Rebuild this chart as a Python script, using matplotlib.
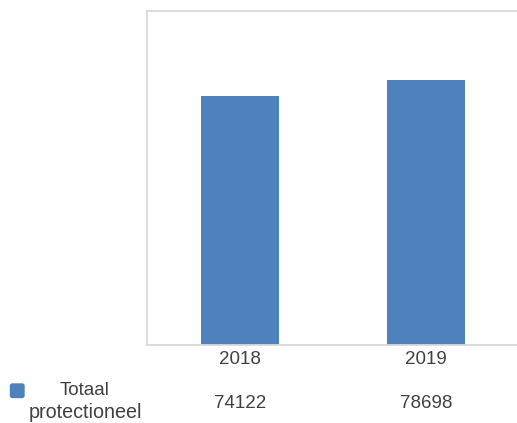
import matplotlib.pyplot as plt
from matplotlib.patches import FancyBboxPatch

# data
years = ["2018", "2019"]
values = [74122, 78698]
series_lines = ["Totaal", "protectioneel"]

bar_color = "#4f81bd"
frame_color = "#d9d9d9"
text_color = "#404040"

plt.rcParams["font.family"] = ["Liberation Sans", "DejaVu Sans"]

fig = plt.figure(figsize=(5.17, 4.23), dpi=100)
ax = fig.add_axes([147 / 517, 78 / 423, 372 / 517, 334.5 / 423])

x = range(len(years))
ax.bar(x, values, width=0.414, color=bar_color)
ax.set_xlim(-0.5, len(years) - 0.5)
ax.set_ylim(0, 99450)

ax.set_xticks([])
ax.set_yticks([])
for side in ["left", "top", "bottom"]:
    ax.spines[side].set_color(frame_color)
    ax.spines[side].set_linewidth(1.3)
ax.spines["right"].set_visible(False)

# data table under the chart
for i, (yr, v) in enumerate(zip(years, values)):
    xf = (147 + 186 * (i + 0.5)) / 517
    fig.text(xf, 1 - 359.5 / 423, yr, ha="center", va="center",
             fontsize=13.5, color=text_color)
    fig.text(xf, 1 - 403 / 423, str(v), ha="center", va="center",
             fontsize=13.5, color=text_color)

# series name in two lines
fig.text(84.5 / 517, 1 - 390 / 423, series_lines[0], ha="center", va="center",
         fontsize=13.5, color=text_color)
fig.text(85 / 517, 1 - 412 / 423, series_lines[1], ha="center", va="center",
         fontsize=14.2, color=text_color)

# legend key
key = FancyBboxPatch((10.5 / 517, 1 - 397.5 / 423), 13.5 / 517, 13.5 / 423,
                     boxstyle="round,pad=0,rounding_size=0.004",
                     transform=fig.transFigure, color=bar_color)
fig.patches.append(key)

fig.savefig("out.png", dpi=100)
